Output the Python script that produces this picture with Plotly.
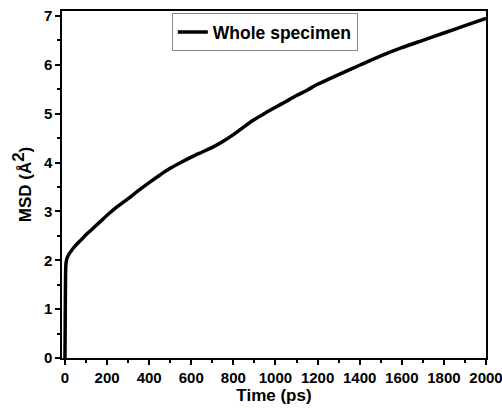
import plotly.graph_objects as go

time_ps = [0, 1, 2, 3, 4, 6, 10, 15, 20, 30, 40, 50, 65, 80, 100, 125, 150, 175, 200, 250,
           300, 350, 400, 450, 500, 550, 600, 650, 700, 750, 800, 850, 900, 950, 1000,
           1050, 1100, 1150, 1200, 1300, 1400, 1500, 1600, 1700, 1800, 1900, 2000]
msd = [0, 0.6, 1.3, 1.72, 1.88, 1.97, 2.04, 2.09, 2.13, 2.19, 2.25, 2.3, 2.37, 2.43, 2.52,
       2.62, 2.72, 2.82, 2.92, 3.1, 3.26, 3.43, 3.59, 3.74, 3.88, 4.0, 4.11, 4.21, 4.31,
       4.43, 4.57, 4.73, 4.88, 5.01, 5.13, 5.25, 5.37, 5.48, 5.6, 5.8, 5.99, 6.18, 6.35,
       6.5, 6.65, 6.8, 6.95]
series_name = "Whole specimen"
x_ticks = [0, 200, 400, 600, 800, 1000, 1200, 1400, 1600, 1800, 2000]
y_ticks = [0, 1, 2, 3, 4, 5, 6, 7]

FONT = "Liberation Sans"

fig = go.Figure()
fig.add_trace(go.Scatter(x=time_ps, y=msd, mode="lines", name=series_name,
                         line=dict(color="black", width=3.5, shape="spline", smoothing=0.6)))

axis_common = dict(
    showline=True, linecolor="black", linewidth=1.5, mirror=True,
    ticks="outside", ticklen=5, tickwidth=1.5, tickcolor="black",
    showgrid=False, zeroline=False, automargin=False, ticklabeloverflow="allow",
    tickfont=dict(family=FONT, size=15, color="black", weight="bold"),
)

fig.update_xaxes(**axis_common, range=[-14, 2000], tickvals=x_ticks,
                 minor=dict(ticks="outside", ticklen=3, tickwidth=1.5, tickcolor="black", dtick=100, tick0=0),
                 title=dict(text="<b>Time (ps)</b>", font=dict(family=FONT, size=17, color="black"), standoff=2))
fig.update_yaxes(**axis_common, range=[0, 7.1], tickvals=y_ticks,
                 minor=dict(ticks="outside", ticklen=3, tickwidth=1.5, tickcolor="black", dtick=0.5, tick0=0),
                 title=dict(text="<b>MSD (Å<sup><span style='font-size:17px'>2</span></sup>)</b>",
                            font=dict(family=FONT, size=17, color="black"), standoff=8))

fig.update_layout(
    width=502, height=409,
    margin=dict(l=62, r=16, t=11, b=51),
    plot_bgcolor="white", paper_bgcolor="white",
    showlegend=True,
    legend=dict(x=0.259, y=0.994, xanchor="left", yanchor="top",
                bordercolor="#888888", borderwidth=1, bgcolor="white",
                font=dict(family=FONT, size=17.5, color="black", weight="bold"),
                tracegroupgap=0, itemwidth=30),
)

fig.write_html("out.html", config={"displayModeBar": False},
               post_script="document.body.style.margin='0';document.body.style.overflow='hidden';")
